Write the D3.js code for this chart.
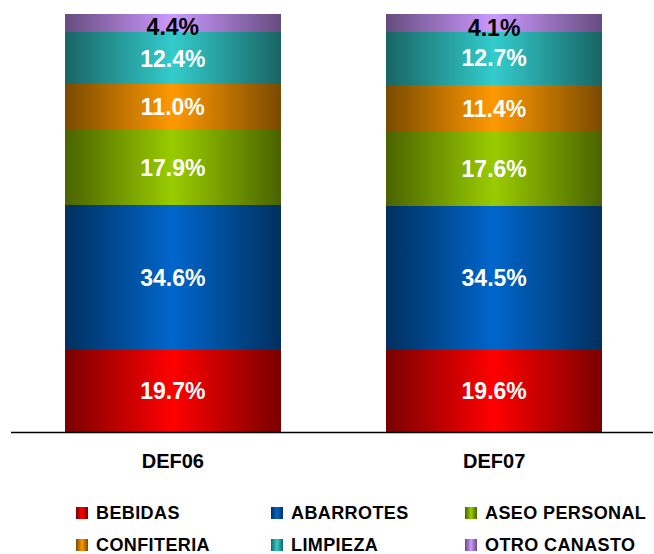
<!DOCTYPE html>
<html>
<head>
<meta charset="utf-8">
<script src="https://cdn.jsdelivr.net/npm/d3@7"></script>
<style>
  body { margin: 0; background: #fff; }
  svg { display: block; font-family: "Liberation Sans", Arial, sans-serif; font-weight: bold; }
</style>
</head>
<body>
<svg id="chart" width="654" height="554"></svg>
<script>
const categories = ["DEF06", "DEF07"];
const series = ["BEBIDAS", "ABARROTES", "ASEO PERSONAL", "CONFITERIA", "LIMPIEZA", "OTRO CANASTO"];
const valuesDEF06 = [19.7, 34.6, 17.9, 11.0, 12.4, 4.4];
const valuesDEF07 = [19.6, 34.5, 17.6, 11.4, 12.7, 4.1];
const brightColors = ["#ff0000", "#0066cc", "#99cc00", "#ff9900", "#33cccc", "#cc99ff"];
const edgeColors = ["#7a0000", "#00305f", "#4a6300", "#7a4a00", "#196464", "#664c7f"];
const labelColors = ["#fff", "#fff", "#fff", "#fff", "#fff", "#000"];

const svg = d3.select("#chart");

const x = d3.scaleBand().domain(categories).range([12, 655]).paddingInner(0.327).paddingOuter(0.164);
const y = d3.scaleLinear().domain([0, 100]).range([432, 14]);

// horizontal cylinder-like gradients
const defs = svg.append("defs");
series.forEach((s, i) => {
  const g = defs.append("linearGradient").attr("id", "grad" + i)
    .attr("x1", "0%").attr("x2", "100%").attr("y1", "0%").attr("y2", "0%");
  g.append("stop").attr("offset", "0%").attr("stop-color", edgeColors[i]);
  g.append("stop").attr("offset", "50%").attr("stop-color", brightColors[i]);
  g.append("stop").attr("offset", "100%").attr("stop-color", edgeColors[i]);
});

const rows = categories.map((c, ci) => {
  const vals = ci === 0 ? valuesDEF06 : valuesDEF07;
  const r = { cat: c };
  series.forEach((s, i) => r[s] = vals[i]);
  return r;
});
const stacked = d3.stack().keys(series)(rows);

const layers = svg.append("g").attr("shape-rendering", "crispEdges")
  .selectAll("g").data(stacked).join("g")
  .attr("fill", (d, i) => `url(#grad${i})`);

layers.selectAll("rect").data(d => d).join("rect")
  .attr("x", d => x(d.data.cat))
  .attr("width", x.bandwidth())
  .attr("y", d => Math.round(y(d[1])))
  .attr("height", d => Math.round(y(d[0])) - Math.round(y(d[1])));

// value labels
stacked.forEach((layer, i) => {
  svg.append("g").selectAll("text").data(layer).join("text")
    .attr("x", d => x(d.data.cat) + x.bandwidth() / 2)
    .attr("y", d => Math.max((y(d[0]) + y(d[1])) / 2, y(d[1]) + 13))
    .attr("dy", "0.36em")
    .attr("text-anchor", "middle")
    .attr("font-size", 23)
    .attr("fill", labelColors[i])
    .text(d => d.data[layer.key].toFixed(1) + "%");
});

// baseline
svg.append("line").attr("x1", 11).attr("x2", 653)
  .attr("y1", y(0) + 0.5).attr("y2", y(0) + 0.5)
  .attr("stroke", "#000").attr("stroke-width", 1.3);

// category axis labels
svg.append("g").selectAll("text").data(categories).join("text")
  .attr("x", d => x(d) + x.bandwidth() / 2)
  .attr("y", 468)
  .attr("text-anchor", "middle")
  .attr("font-size", 20)
  .attr("fill", "#000")
  .text(d => d);

// legend
const legX = [76, 271, 465], legY = [513, 545];
const leg = svg.append("g").selectAll("g").data(series).join("g")
  .attr("transform", (d, i) => `translate(${legX[i % 3]},${legY[Math.floor(i / 3)]})`);
leg.append("rect").attr("x", 0).attr("y", -6).attr("width", 12).attr("height", 12)
  .attr("fill", (d, i) => `url(#grad${i})`);
leg.append("text").attr("x", 20).attr("y", 0).attr("dy", "0.36em")
  .attr("font-size", 18).attr("letter-spacing", 0.4).attr("fill", "#000")
  .text(d => d);
</script>
</body>
</html>
